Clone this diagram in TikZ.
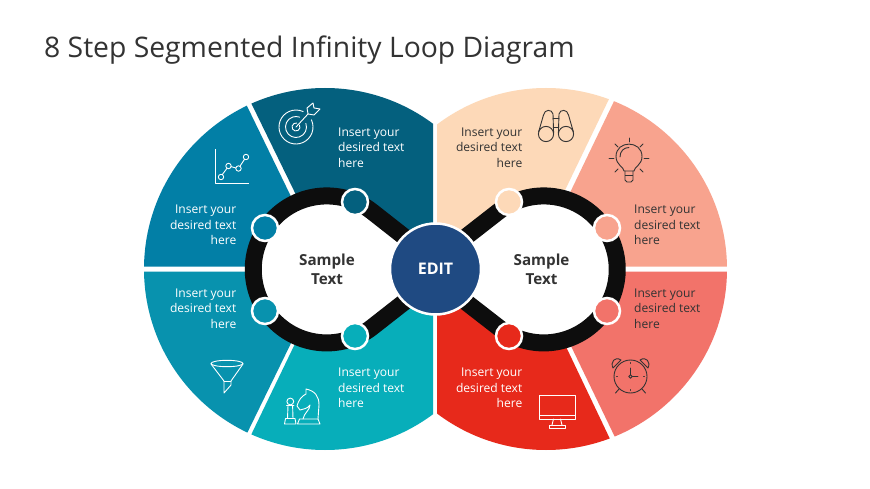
\documentclass[tikz,border=0pt]{standalone}
\usepackage{fontspec}
\setmainfont{Open Sans}
\usetikzlibrary{calc}
\definecolor{segA}{HTML}{04607E}
\definecolor{segB}{HTML}{027FA6}
\definecolor{segC}{HTML}{0892AE}
\definecolor{segD}{HTML}{07AEBA}
\definecolor{segE}{HTML}{FDD9B8}
\definecolor{segF}{HTML}{F8A38E}
\definecolor{segG}{HTML}{F2736A}
\definecolor{segH}{HTML}{E7291B}
\definecolor{editblue}{HTML}{1F4A82}
\definecolor{ringblack}{HTML}{0D0D0D}
\definecolor{ink}{HTML}{333333}
\tikzset{
 bodylight/.style={font=\fontsize{12.05}{15.5}\selectfont,text=white,inner sep=0},
 bodydark/.style={font=\fontsize{12.05}{15.5}\selectfont,text=ink,inner sep=0},
 hubtext/.style={font=\fontsize{15.2}{19.5}\selectfont\bfseries,text=ink,inner sep=0,align=center},
 dot/.style={circle,draw=white,line width=2.5pt,minimum size=26pt,inner sep=0},
 ring/.style={draw=ringblack,line width=17pt,fill=white,line join=round},
 iconw/.style={draw=white,line width=.9pt,line cap=round,line join=round},
 iconk/.style={draw=ink,line width=.9pt,line cap=round,line join=round},
}
\newcommand{\sector}[4]{\begin{scope}\clip (#1,#2) circle (181); \fill[#3] #4; \end{scope}}
\begin{document}
\begin{tikzpicture}[x=1pt,y=1pt,yscale=-1]
\useasboundingbox (0,0) rectangle (870,489);
\fill[white] (0,0) rectangle (870,489);
\node[anchor=base west,inner sep=0,text=ink,font=\fontsize{28.3}{32}\selectfont] (title) at (44,57.5) {8 Step Segmented Infinity Loop Diagram};
% segments
\sector{325}{269}{segA}{(235,70)--(433,70)--(433,266.5)--(331,266.5)--cycle}
\sector{325}{269}{segB}{(120,70)--(229.5,70)--(325,266.5)--(120,266.5)--cycle}
\sector{325}{269}{segC}{(120,271.5)--(326,271.5)--(234,460)--(120,460)--cycle}
\sector{325}{269}{segD}{(331,269)--(433,269)--(433,460)--(239,460)--cycle}
\sector{546}{269}{segE}{(437,70)--(623,70)--(527,269)--(437,269)--cycle}
\sector{546}{269}{segF}{(629,70)--(760,70)--(760,266.5)--(534.5,266.5)--cycle}
\sector{546}{269}{segG}{(535,271.5)--(760,271.5)--(760,460)--(626,460)--cycle}
\sector{546}{269}{segH}{(437,269)--(529,269)--(620,460)--(437,460)--cycle}
% loop
\draw[ring] (435,261) -- (372,211.5) arc (-52:-308:73.5) -- (435,278) -- cycle;
\draw[ring] (435,261) -- (498.5,211.5) arc (-128:128:73.5) -- (435,278) -- cycle;
\fill[white] (425,255) rectangle (445,284);
% dots
\node[dot,fill=segA] (d1) at (355,202) {};
\node[dot,fill=segB] (d2) at (265,228) {};
\node[dot,fill=segC] (d3) at (265,311) {};
\node[dot,fill=segD] (d4) at (355,336) {};
\node[dot,fill=segE] (d5) at (509,202) {};
\node[dot,fill=segF] (d6) at (607,228) {};
\node[dot,fill=segG] (d7) at (607,311) {};
\node[dot,fill=segH] (d8) at (509,336) {};
% hub
\node[circle,draw=white,line width=2.5pt,fill=editblue,minimum size=91pt,inner sep=0,text=white,font=\fontsize{16}{18}\selectfont\bfseries] (edit) at (435.5,269) {EDIT};
\node[hubtext] (s1) at (327,269.5) {Sample\\Text};
\node[hubtext] (s2) at (541.5,269.5) {Sample\\Text};
% labels
\node[bodylight,align=left,anchor=west] (ta) at (338,147.5) {Insert your\\desired text\\here};
\node[bodylight,align=right,anchor=east] (tb) at (236.5,225) {Insert your\\desired text\\here};
\node[bodylight,align=right,anchor=east] (tc) at (236.5,308.5) {Insert your\\desired text\\here};
\node[bodylight,align=left,anchor=west] (td) at (338,388) {Insert your\\desired text\\here};
\node[bodydark,align=right,anchor=east] (te) at (522.5,147.5) {Insert your\\desired text\\here};
\node[bodydark,align=left,anchor=west] (tf) at (634,225) {Insert your\\desired text\\here};
\node[bodydark,align=left,anchor=west] (tg) at (634,308.5) {Insert your\\desired text\\here};
\node[bodylight,align=right,anchor=east] (th) at (522.5,388) {Insert your\\desired text\\here};
% target icon
\draw[iconw] (296,127) ++(-25:17) arc (-25:295:17);
\draw[iconw] (296,127) ++(-20:10.5) arc (-20:290:10.5);
\draw[iconw] (296,127) ++(-30:4) arc (-30:280:4);
\draw[iconw] (296,127) -- (308,114);
\draw[iconw] (308,114) -- (307,108) -- (313,103) -- (314,108) -- (320,109) -- (314,115) -- cycle;
% chart icon
\draw[iconw,line cap=butt] (215,149) -- (215,183) -- (249,183);
\draw[iconw] (221,177) circle (2.7) (228.5,166) circle (2.7) (238.5,168.5) circle (2.7) (246,157) circle (2.7);
\draw[iconw] (222.3,174.6) -- (227,168.3) (231,166.6) -- (236,168) (240,166.2) -- (244.5,159.3);
% binoculars icon
\begin{scope}[iconk]
\draw (546,134) circle (7.6) (566,134) circle (7.6);
\draw (538.6,132) -- (543.5,115) .. controls (544.5,109) and (552,109) .. (553,114) -- (553.6,133);
\draw (573.4,132) -- (568.5,115) .. controls (567.5,109) and (560,109) .. (559,114) -- (558.4,133);
\draw (553,118) -- (559,118) (553.4,127) -- (558.6,127);
\end{scope}
% bulb icon
\begin{scope}[iconk]
\draw (624,171) .. controls (624,167) and (616,165) .. (616,156.5) .. controls (616,140) and (642,140) .. (642,156.5) .. controls (642,165) and (634,167) .. (634,171) -- cycle;
\draw (625,171) -- (625,180) -- (627,182) -- (631,182) -- (633,180) -- (633,171) (625,175.5) -- (633,175.5);
\draw (620,157) .. controls (620,151) and (624,147.5) .. (629,147.5);
\draw (629,138) -- (629,142) (609,158) -- (614,158) (644,158) -- (649,158);
\draw (615,144) -- (618,147) (643,144) -- (640,147) (615,172) -- (618,169) (643,172) -- (640,169);
\end{scope}
% funnel icon
\begin{scope}[iconw]
\draw (227,363.5) ellipse (16 and 3.2);
\draw (211,364) -- (224,381) -- (224,393) -- (231,385) -- (231,381) -- (243,364);
\draw (224,381) -- (231,381);
\end{scope}
% chess icon
\begin{scope}[iconw]
\draw (290.3,401.5) circle (3.4);
\draw (286.5,405.5) -- (294,405.5) (288,405.5) -- (287.5,418.5) (292.6,405.5) -- (293,418.5);
\draw (285.5,418.5) -- (295,418.5) -- (296,424) -- (284.5,424) -- cycle;
\draw (299.5,419) -- (318,419) -- (320,424) -- (297.5,424) -- cycle;
\draw (303,419) .. controls (304,413) and (310,410) .. (310,405) .. controls (307,409) and (303,409) .. (300,410) -- (297,406) .. controls (299,399) and (302,396) .. (306,394) -- (306,389) .. controls (315,391) and (319,396) .. (319,405) -- (318,419);
\end{scope}
% monitor icon
\begin{scope}[iconw]
\draw (539.5,395) rectangle (575.5,419);
\draw (539.5,415.5) -- (575.5,415.5);
\draw (553.5,419) -- (552,425) (560.5,419) -- (562,425);
\draw (549,425) rectangle (565.5,428);
\end{scope}
% clock icon
\begin{scope}[iconk]
\draw (630.5,376.5) circle (16.5);
\draw (613,368) .. controls (610,362) and (615,356) .. (621,360) -- cycle;
\draw (648,368) .. controls (651,362) and (646,356) .. (640,360) -- cycle;
\draw (630.5,375) -- (630.5,368) (632.5,376.5) -- (638,376.5);
\draw (630.5,376.5) circle (1.8);
\draw (619,389) -- (615.5,393) (642,389) -- (645.5,393);
\draw (630.5,362.5) -- (630.5,363.5) (630.5,389.5) -- (630.5,390.5) (616.5,376.5) -- (617.5,376.5) (643.5,376.5) -- (644.5,376.5);
\end{scope}
\end{tikzpicture}
\end{document}
